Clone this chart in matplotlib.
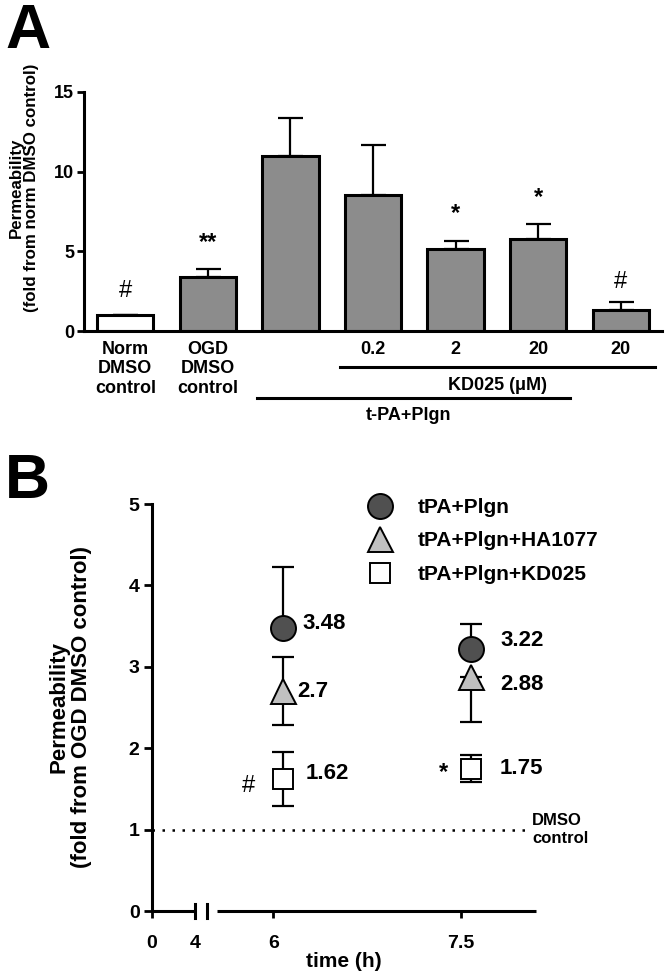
import numpy as np
import matplotlib
matplotlib.use("Agg")
import matplotlib.pyplot as plt

plt.rcParams["font.family"] = ["Liberation Sans", "DejaVu Sans"]
plt.rcParams["font.weight"] = "bold"

# ---- panel A data ----
groups_a = ["Norm\nDMSO\ncontrol", "OGD\nDMSO\ncontrol", "", "0.2", "2", "20", "20"]
perm_a = [1.0, 3.37, 11.0, 8.54, 5.15, 5.75, 1.32]
sem_a = [0.0, 0.5, 2.37, 3.15, 0.5, 0.95, 0.52]
sig_a = ["#", "**", "", "", "*", "*", "#"]
sig_a_y = [2.5, 5.55, 0, 0, 7.35, 8.35, 3.1]

# ---- panel B data ----
times_b = [6, 7.5]
series_b = ["tPA+Plgn", "tPA+Plgn+HA1077", "tPA+Plgn+KD025"]
perm_b = {
    "tPA+Plgn": [3.48, 3.22],
    "tPA+Plgn+HA1077": [2.7, 2.88],
    "tPA+Plgn+KD025": [1.62, 1.75],
}
err_lo_b = {
    "tPA+Plgn": [0.0, 0.0],
    "tPA+Plgn+HA1077": [0.42, 0.56],
    "tPA+Plgn+KD025": [0.33, 0.17],
}
err_hi_b = {
    "tPA+Plgn": [0.74, 0.31],
    "tPA+Plgn+HA1077": [0.42, 0.0],
    "tPA+Plgn+KD025": [0.33, 0.17],
}
sig_b = ["#", "*"]

fig = plt.figure(figsize=(6.66, 9.8), dpi=100)
W, H = 666, 980

# =================== panel A ===================
axA = fig.add_axes([84 / W, 1 - 331 / H, 578 / W, 239 / H])
x = np.arange(len(perm_a))
colors = ["white"] + ["#8c8c8c"] * (len(perm_a) - 1)
axA.bar(x, perm_a, width=0.68, color=colors, edgecolor="black", linewidth=2.2,
        yerr=(np.zeros(len(sem_a)), sem_a), capsize=9,
        error_kw=dict(elinewidth=1.6, capthick=1.6, ecolor="black"), zorder=2)
for xi, s, yy in zip(x, sig_a, sig_a_y):
    if s:
        axA.text(xi, yy, s, ha="center", va="center", fontsize=17,
                 fontweight="normal" if s == "#" else "bold")

axA.set_xlim(-0.5, 6.5)
axA.set_ylim(0, 15)
axA.set_yticks([0, 5, 10, 15])
axA.set_xticks(x)
axA.set_xticklabels(groups_a, fontsize=13, fontweight="bold", linespacing=1.2)
axA.tick_params(axis="x", length=0, pad=7)
axA.tick_params(axis="y", length=5, width=2, labelsize=13, pad=2)
for lab in axA.get_yticklabels():
    lab.set_fontweight("bold")
for sp in ["top", "right"]:
    axA.spines[sp].set_visible(False)
for sp in ["left", "bottom"]:
    axA.spines[sp].set_linewidth(2.2)

trA = axA.get_xaxis_transform()
axA.plot([2.6, 6.42], [-0.151, -0.151], color="black", lw=2.2, transform=trA, clip_on=False)
axA.text(4.51, -0.226, "KD025 (\u03bcM)", transform=trA, ha="center", va="center", fontsize=13)
axA.plot([1.6, 5.38], [-0.28, -0.28], color="black", lw=2.2, transform=trA, clip_on=False)
axA.text(3.43, -0.353, "t-PA+Plgn", transform=trA, ha="center", va="center", fontsize=13)

fig.text(24 / W, 1 - 188 / H, "Permeability\n(fold from norm DMSO control)", rotation=90,
         ha="center", va="center", fontsize=12.2, fontweight="bold", multialignment="center",
         linespacing=1.05)
fig.text(5 / W, 1 - 2 / H, "A", fontsize=45, fontweight="bold", va="top", ha="left")

# =================== panel B ===================
axB = fig.add_axes([152 / W, 1 - 911 / H, 384 / W, 407 / H])

# broken time axis: 0-4 compressed, then 6-8 expanded
kt = [-100, 0, 4, 5.55, 8.1, 100]
kp = [-100 * 10.75, 0, 43, 65, 384, 384 + (100 - 8.1) * 125.1]


def fwd(t):
    return np.interp(t, kt, kp)


def inv(p):
    return np.interp(p, kp, kt)


axB.set_xscale("function", functions=(fwd, inv))
axB.set_xlim(0, 8.1)
axB.set_ylim(0, 5)

styles = {
    "tPA+Plgn": dict(marker="o", ms=18, mfc="#505050"),
    "tPA+Plgn+HA1077": dict(marker="^", ms=18, mfc="#c0c0c0"),
    "tPA+Plgn+KD025": dict(marker="s", ms=15, mfc="white"),
}
x_nudge = 0.08
tb = np.array(times_b) + x_nudge
for name in series_b:
    axB.errorbar(tb, perm_b[name], yerr=(err_lo_b[name], err_hi_b[name]), fmt="none",
                 ecolor="black", elinewidth=1.6, capsize=8, capthick=1.6, zorder=3)
for name in series_b:
    axB.plot(tb, perm_b[name], linestyle="none", mec="black", mew=1.4, label=name,
             zorder=4, **styles[name])

# value labels
lab_dx = {
    "tPA+Plgn": [14, 21],
    "tPA+Plgn+HA1077": [10, 21],
    "tPA+Plgn+KD025": [16, 21],
}
lab_dy = {
    "tPA+Plgn": [3, 6],
    "tPA+Plgn+HA1077": [0, -6],
    "tPA+Plgn+KD025": [4, 0],
}
for name in series_b:
    for i, t in enumerate(tb):
        axB.annotate(f"{perm_b[name][i]:g}", (t, perm_b[name][i]),
                     xytext=(lab_dx[name][i], lab_dy[name][i]), textcoords="offset points",
                     ha="left", va="center", fontsize=16, fontweight="bold")
sig_dx = [-25, -19.5]
sig_dy = [-5, -3]
for i, t in enumerate(tb):
    axB.annotate(sig_b[i], (t, perm_b["tPA+Plgn+KD025"][i]), xytext=(sig_dx[i], sig_dy[i]),
                 textcoords="offset points", ha="center", va="center", fontsize=17,
                 fontweight="normal" if sig_b[i] == "#" else "bold")

# DMSO control reference
axB.plot([0, 8.05], [1, 1], color="black", lw=1.8, linestyle=(0, (1, 3)), zorder=1)
axB.text(8.07, 1, "DMSO\ncontrol", ha="left", va="center", fontsize=12, fontweight="bold",
         linespacing=1.2)

# axis styling
for sp in ["top", "right", "bottom"]:
    axB.spines[sp].set_visible(False)
axB.spines["left"].set_linewidth(2.2)
axB.plot([0, 4], [0, 0], color="black", lw=2.2, clip_on=False, solid_capstyle="butt")
axB.plot([5.55, 8.1], [0, 0], color="black", lw=2.2, clip_on=False, solid_capstyle="butt")
for bx in [4, 4.845]:
    axB.plot([bx, bx], [-0.08, 0.08], color="black", lw=2.2, clip_on=False)

axB.set_yticks([0, 1, 2, 3, 4, 5])
axB.set_xticks([0, 4, 6, 7.5])
axB.set_xticklabels(["0", "4", "6", "7.5"])
axB.tick_params(axis="y", length=6, width=2, labelsize=14, pad=3)
axB.tick_params(axis="x", length=5, width=2, labelsize=14, pad=12)
for lab in axB.get_yticklabels() + axB.get_xticklabels():
    lab.set_fontweight("bold")
axB.set_xlabel("time (h)", fontsize=15, fontweight="bold", labelpad=0)

fig.text(70 / W, 1 - 707 / H, "Permeability\n(fold from OGD DMSO control)", rotation=90,
         ha="center", va="center", fontsize=16, fontweight="bold", multialignment="center",
         linespacing=1.1)
fig.text(5 / W, 1 - 452 / H, "B", fontsize=45, fontweight="bold", va="top", ha="left")

axB.legend(loc="upper left", bbox_to_anchor=(0.55, 1.015), frameon=False,
           handlelength=1.6, handletextpad=1.0, labelspacing=0.7, borderpad=0,
           borderaxespad=0, prop=dict(weight="bold", size=15))

fig.savefig("out.png", dpi=100)
